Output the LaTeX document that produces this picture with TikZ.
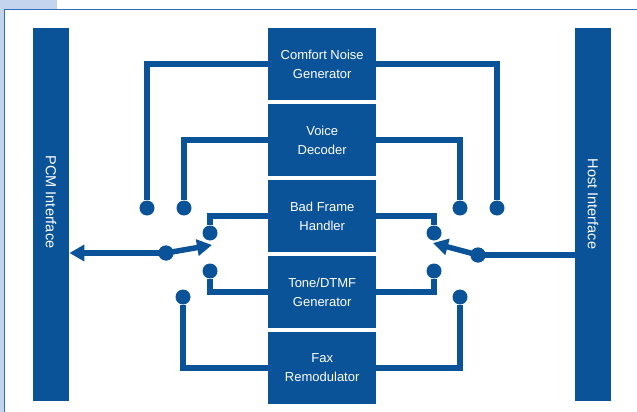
\documentclass[tikz,border=0pt]{standalone}
\usepackage{fontspec}
\setmainfont{Liberation Sans}
\usepackage{tikz}
\usetikzlibrary{arrows.meta, positioning, calc}
\definecolor{dspblue}{RGB}{11,83,153}
\definecolor{framebl}{RGB}{45,110,190}
\definecolor{paleblue}{RGB}{197,212,238}
\tikzset{%
	block/.style={draw=none, rectangle, fill=dspblue, text=white, minimum width=108pt,%
		minimum height=72pt, inner sep=0pt, align=center, font=\fontsize{13}{19}\selectfont},
	bar/.style={rectangle, fill=dspblue, text=white, minimum width=36pt, minimum height=373pt,%
		inner sep=0pt, font=\fontsize{14.5}{17}\selectfont},
	pin/.style={circle, fill=dspblue, minimum size=15pt, inner sep=0pt},
	connector/.style={draw=dspblue, line width=5.5pt},
	sel/.style={draw=dspblue, line width=5.5pt, -{Triangle[length=15pt,width=16pt]}}
}
\begin{document}
\begin{tikzpicture}[x=1pt, y=-1pt, node distance=3.5pt]
	\useasboundingbox (0,0) rectangle (637,412);
	\fill[paleblue] (0,0) rectangle (57,9);
	\fill[paleblue] (0,9) rectangle (4,412);
	\draw[framebl, line width=1.2pt] (4.5,412) -- (4.5,9.5) -- (637,9.5);

	\node[bar, anchor=north west] (pcm) at (33,28) {};
	\node[bar, anchor=north west] (host) at (575,28) {};
	\node[rotate=-90, text=white, font=\fontsize{14.5}{17}\selectfont] at (51,202) {PCM Interface};
	\node[rotate=-90, text=white, font=\fontsize{14.5}{17}\selectfont] at (593,204) {Host Interface};

	\node[block, anchor=north west] (cng) at (268,28) {Comfort Noise\\Generator};
	\node[block, below=of cng] (vd) {Voice\\Decoder};
	\node[block, below=of vd] (bfh) {Bad Frame\\Handler};
	\node[block, below=of bfh] (tone) {Tone/DTMF\\Generator};
	\node[block, below=of tone] (fax) {Fax\\Remodulator};

	\node[pin] (lc) at (147,208) {};
	\node[pin] (lv) at (184,208) {};
	\node[pin] (lb) at (210,233) {};
	\node[pin] (lt) at (210,271) {};
	\node[pin] (lf) at (183,297) {};
	\node[pin] (lp) at (166,253) {};
	\coordinate (ltip) at (212,245);

	\node[pin] (rc) at (497,208) {};
	\node[pin] (rv) at (460,208) {};
	\node[pin] (rb) at (434,233) {};
	\node[pin] (rt) at (434,271) {};
	\node[pin] (rf) at (460,297) {};
	\node[pin] (rp) at (478,255) {};
	\coordinate (rtip) at (433,243);

	\draw[connector] (cng.west) -| (lc);
	\draw[connector] (vd.west) -| (lv);
	\draw[connector] (bfh.west) -| (lb);
	\draw[connector] (tone.west) -| (lt);
	\draw[connector] (fax.west) -| (lf);
	\draw[connector] (cng.east) -| (rc);
	\draw[connector] (vd.east) -| (rv);
	\draw[connector] (bfh.east) -| (rb);
	\draw[connector] (tone.east) -| (rt);
	\draw[connector] (fax.east) -| (rf);

	\draw[sel] (lp.center) -- (pcm.east |- lp);
	\draw[sel] (lp.center) -- (ltip);
	\draw[connector] (host.west |- rp) -- (rp.center);
	\draw[sel] (rp.center) -- (rtip);
	\node[pin] at (lp) {};
	\node[pin] at (rp) {};
\end{tikzpicture}
\end{document}
